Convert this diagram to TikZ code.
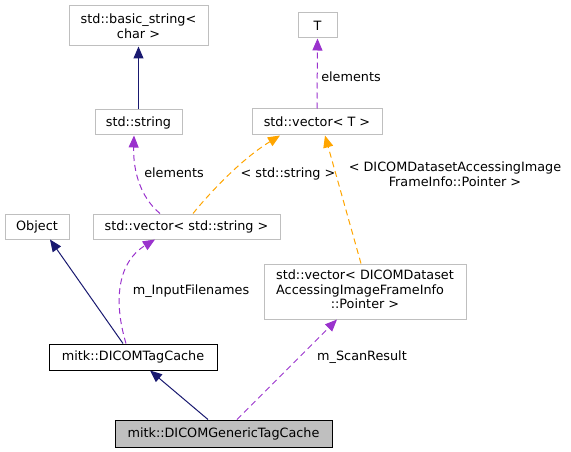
\documentclass[tikz,border=0pt]{standalone}
\usepackage{fontspec}
\setmainfont{DejaVu Sans}
\usetikzlibrary{arrows.meta}
\definecolor{inhblue}{HTML}{191970}
\definecolor{usepurple}{HTML}{9A32CD}
\definecolor{tmplorange}{HTML}{FFA500}
\definecolor{boxgray}{HTML}{BFBFBF}
\newcommand{\diagfont}{\fontsize{12.8}{14.5}\selectfont}
\begin{document}
\begin{tikzpicture}[x=1pt,y=-1pt,
	cls/.style={draw=boxgray,line width=1pt,inner sep=0pt,minimum height=25pt,font=\diagfont},
	lbl/.style={inner sep=0pt,align=center,font=\diagfont},
	inh/.style={draw=inhblue,line width=1pt,-{Triangle[length=12pt,width=10pt]}},
	usedby/.style={draw=usepurple,line width=1pt,dash pattern=on 6pt off 4pt,-{Triangle[length=12pt,width=10pt]}},
	tmpl/.style={draw=tmplorange,line width=1pt,dash pattern=on 6pt off 4pt,-{Triangle[length=12pt,width=10pt]}}]
		\useasboundingbox (0,0) rectangle (571,452);
		
		\node[cls,align=center,minimum width=139pt,minimum height=40pt] (bstr) at (138.5,26) {std::basic\_string<\\char >};
		\node[cls,minimum width=39pt] (T) at (317.5,25.5) {T};
		\node[cls,minimum width=87pt] (str) at (138.5,122.5) {std::string};
		\node[cls,minimum width=130pt,minimum height=26pt] (vecT) at (317,122) {std::vector< T >};
		\node[cls,minimum width=64pt] (obj) at (37,226.5) {Object};
		\node[cls,minimum width=187pt] (vecstr) at (186.5,226.5) {std::vector< std::string >};
		\node[cls,minimum width=202pt,minimum height=55pt] (vecdicom) at (365,291.5)
			{\begin{tabular}{@{}l@{}}std::vector< DICOMDataset\\AccessingImageFrameInfo\\\multicolumn{1}{@{}c@{}}{::Pointer >}\end{tabular}};
		\node[cls,draw=black,minimum width=168pt,minimum height=26pt] (tagcache) at (133,357) {mitk::DICOMTagCache};
		\node[cls,draw=black,fill=boxgray,minimum width=217pt,minimum height=27pt] (generic) at (223.5,433.5) {mitk::DICOMGenericTagCache};
		
		% inheritance
		\draw[inh] (str.north) -- (bstr.south);
		\draw[inh] ([xshift=-10pt]tagcache.north) -- ([xshift=13pt]obj.south);
		\draw[inh] ([xshift=-15.5pt]generic.north) -- ([xshift=17pt]tagcache.south);
		
		% members
		\draw[usedby] (vecT.north) -- (T.south);
		\node[lbl] (lelemT) at (351,77) {elements};
		\draw[usedby] ([xshift=-26.5pt]vecstr.north) .. controls (140,197) and (133,170) .. ([xshift=-4.5pt]str.south);
		\node[lbl] (lelemstr) at (174,173) {elements};
		\draw[usedby] ([xshift=-7pt]tagcache.north) .. controls (113,300) and (118,262) .. ([xshift=-31.5pt]vecstr.south);
		\node[lbl] (linput) at (191,291) {m\_InputFilenames};
		\draw[usedby] ([xshift=13.5pt]generic.north) -- ([xshift=-28pt]vecdicom.south);
		\node[lbl] (lscan) at (362,357) {m\_ScanResult};
		
		% templates
		\draw[tmpl] ([xshift=6.5pt]vecstr.north) .. controls (208,195) and (240,160) .. ([xshift=-37pt]vecT.south);
		\node[lbl] (lstring) at (288,174) {< std::string >};
		\draw[tmpl] ([xshift=-4pt]vecdicom.north) -- ([xshift=8pt]vecT.south);
		\node[lbl] (lpointer) at (455,174) {< DICOMDatasetAccessingImage\\FrameInfo::Pointer >};
\end{tikzpicture}
\end{document}
